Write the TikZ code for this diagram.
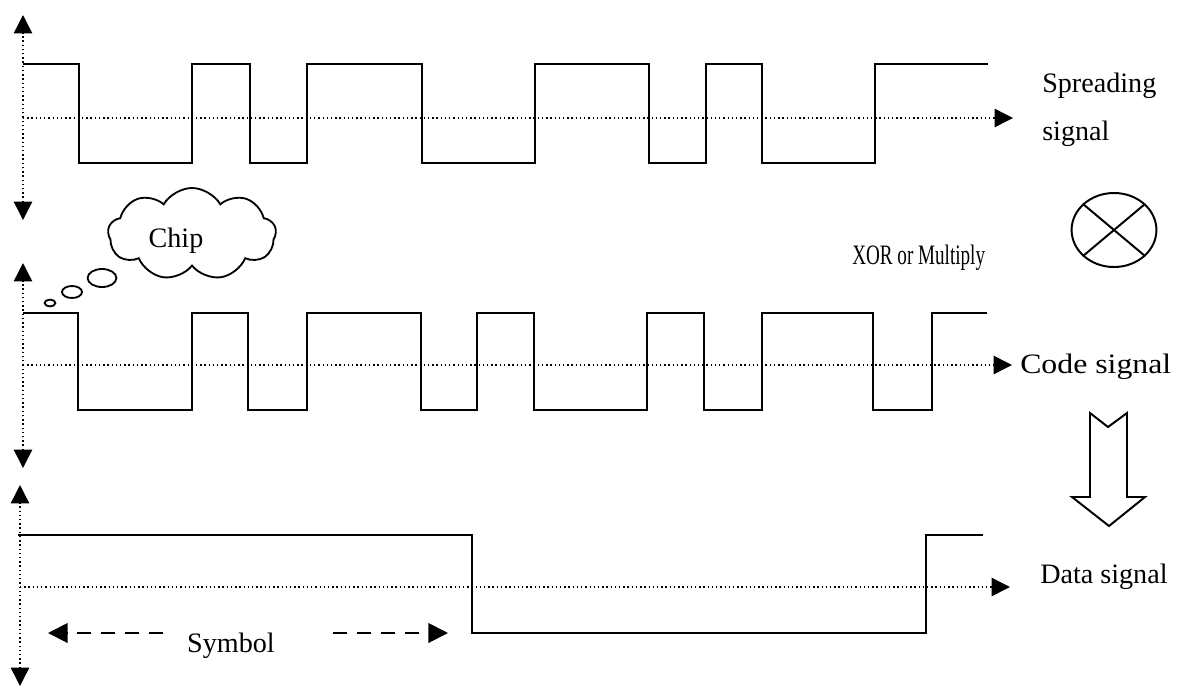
\documentclass[tikz,border=0pt]{standalone}
\usepackage{fontspec}
\setmainfont{Liberation Serif}
\usetikzlibrary{arrows.meta, shapes.geometric, shapes.symbols, positioning}
\tikzset{
  wave/.style={line width=1.5pt, line join=miter},
  dotline/.style={line width=1pt, dash pattern=on 1pt off 2pt},
  axis/.style={dotline, {Triangle[length=13pt, width=13pt]}-{Triangle[length=13pt, width=13pt]}},
  timeaxis/.style={dotline, -{Triangle[length=13pt, width=13pt]}},
  spanarrow/.style={line width=1.4pt, dash pattern=on 10pt off 7pt, -{Triangle[length=14pt, width=14pt]}},
  lbl/.style={font=\fontsize{20}{24}\selectfont, inner sep=0pt},
  bubble/.style={ellipse, draw, line width=1.3pt, inner sep=0pt}
}

\begin{document}
\begin{tikzpicture}[x=0.025cm, y=-0.025cm]
  \useasboundingbox (0,0) rectangle (1177,686);

  % Spreading signal
  \draw[axis] (23,220) -- (23,15);
  \draw[timeaxis] (23,118) -- (1013,118);
  \draw[wave] (23,64) -| (79,163) -| (192,64) -| (250,163) -| (307,64) -| (422,163)
    -| (535,64) -| (649,163) -| (706,64) -| (762,163) -| (875,64) -- (988,64);
  \node[lbl, anchor=west, align=left, font=\fontsize{20}{34}\selectfont] (spread) at (1042,110) {Spreading\\signal};

  % Multiplier
  \node[ellipse, draw, line width=1.4pt, minimum width=2.12cm, minimum height=1.85cm] (xor) at (1114,230) {};
  \draw[line width=1.4pt] (xor.140) -- (xor.-40);
  \draw[line width=1.4pt] (xor.40) -- (xor.-140);
  \node[lbl, anchor=west] (xorlbl) at (852,258) {\scalebox{0.68}[1]{XOR or Multiply}};

  % Chip cloud
  \node[cloud, draw, cloud puffs=9, cloud puff arc=120, aspect=1.8, line width=1.3pt,
    minimum width=4.2cm, minimum height=2.3cm, inner sep=0pt] (chip) at (192,234) {};
  \node[lbl] (chiplbl) at (176,241) {Chip};
  \node[bubble, minimum width=0.72cm, minimum height=0.45cm] (bub3) at (102,278) {};
  \node[bubble, minimum width=0.5cm, minimum height=0.3cm] (bub2) at (72,292) {};
  \node[bubble, minimum width=0.27cm, minimum height=0.17cm] (bub1) at (50,303) {};

  % Code signal
  \draw[axis] (23,468) -- (23,263);
  \draw[timeaxis] (23,365) -- (1012,365);
  \draw[wave] (23,313) -| (78,410) -| (192,313) -| (248,410) -| (307,313) -| (421,410)
    -| (477,313) -| (534,410) -| (647,313) -| (704,410) -| (762,313) -| (873,410)
    -| (932,313) -- (987,313);
  \node[lbl, anchor=west] (code) at (1020,367) {\scalebox{1.13}[1]{Code signal}};

  % Hollow arrow
  \draw[line width=1.4pt] (1090,413) -- (1108,427) -- (1127,413) -- (1127,497) -- (1145,497)
    -- (1109,526) -- (1072,497) -- (1090,497) -- cycle;

  % Data signal
  \draw[axis] (20,686) -- (20,485);
  \draw[timeaxis] (20,587) -- (1010,587);
  \draw[wave] (18,535) -| (472,633) -| (926,535) -- (983,535);
  \node[lbl, anchor=west] (data) at (1040,577) {Data signal};

  % Symbol span
  \node[lbl] (symbol) at (231,646) {Symbol};
  \coordinate (symL) at (163,633);
  \coordinate (symR) at (333,633);
  \draw[spanarrow] (symL) -- (48,633);
  \draw[spanarrow] (symR) -- (448,633);
\end{tikzpicture}
\end{document}
